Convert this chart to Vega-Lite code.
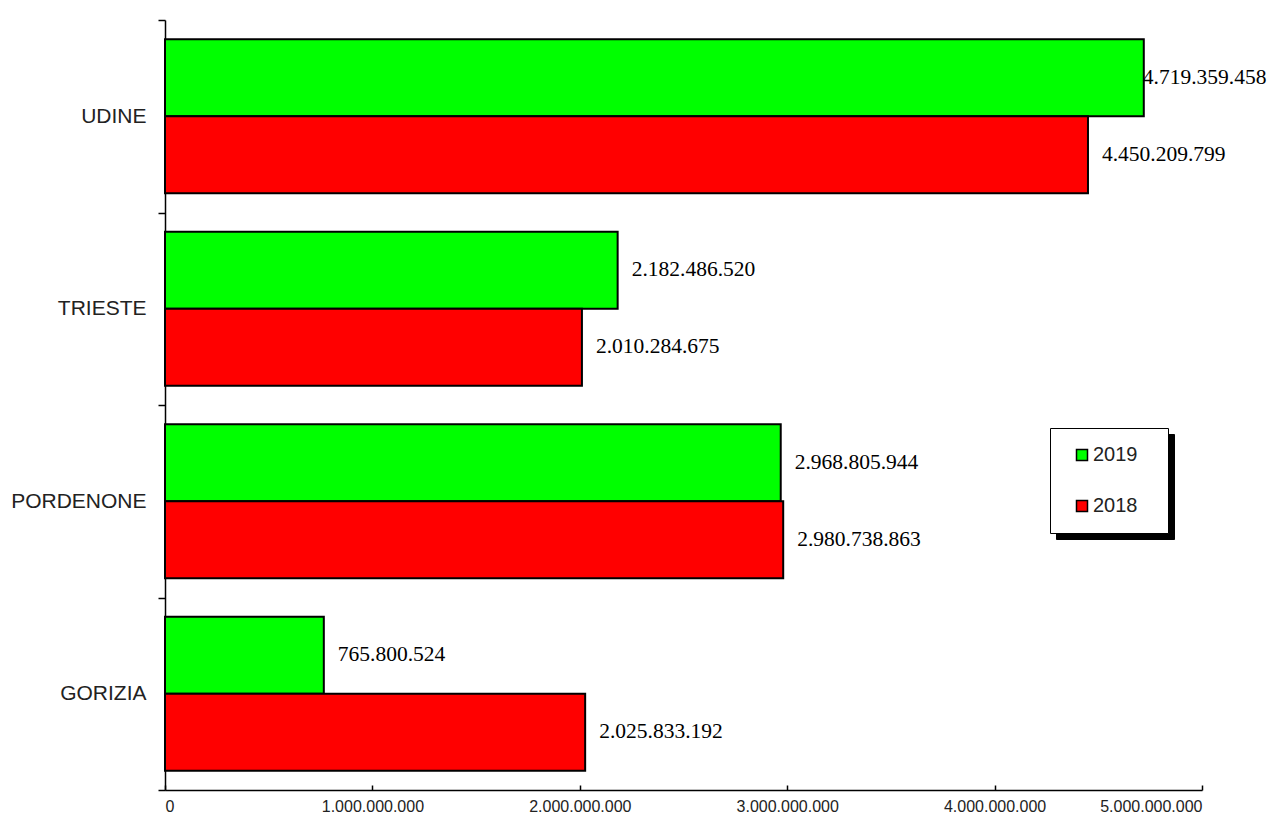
{
  "$schema": "https://vega.github.io/schema/vega-lite/v6.json",
  "width": 1037,
  "height": 770,
  "autosize": {"type": "none"},
  "padding": {"left": 165, "top": 20, "right": 69, "bottom": 25},
  "background": "white",
  "config": {
    "view": {"stroke": null},
    "locale": {"number": {"decimal": ",", "thousands": ".", "grouping": [3], "currency": ["€", ""]}}
  },
  "data": {
    "values": [
      {"province": "UDINE", "year": "2019", "value": 4719359458},
      {"province": "UDINE", "year": "2018", "value": 4450209799},
      {"province": "TRIESTE", "year": "2019", "value": 2182486520},
      {"province": "TRIESTE", "year": "2018", "value": 2010284675},
      {"province": "PORDENONE", "year": "2019", "value": 2968805944},
      {"province": "PORDENONE", "year": "2018", "value": 2980738863},
      {"province": "GORIZIA", "year": "2019", "value": 765800524},
      {"province": "GORIZIA", "year": "2018", "value": 2025833192}
    ]
  },
  "encoding": {
    "y": {
      "field": "province",
      "type": "nominal",
      "sort": ["UDINE", "TRIESTE", "PORDENONE", "GORIZIA"],
      "scale": {"paddingInner": 0, "paddingOuter": 0},
      "axis": {
        "title": null,
        "tickBand": "extent",
        "tickSize": 7,
        "tickColor": "black",
        "tickWidth": 1.5,
        "domainColor": "black",
        "domainWidth": 1.5,
        "labelFont": "Liberation Sans",
        "labelFontSize": 21,
        "labelColor": "#222222",
        "labelPadding": 12
      }
    },
    "yOffset": {
      "field": "year",
      "type": "nominal",
      "sort": ["2019", "2018"],
      "scale": {"paddingInner": 0, "paddingOuter": 0.25}
    },
    "x": {
      "field": "value",
      "type": "quantitative",
      "scale": {"domain": [0, 5000000000], "nice": false},
      "axis": {
        "title": null,
        "grid": false,
        "values": [0, 1000000000, 2000000000, 3000000000, 4000000000, 5000000000],
        "format": ",d",
        "tickSize": -5,
        "tickColor": "black",
        "tickWidth": 1.5,
        "domainColor": "black",
        "domainWidth": 1.5,
        "labelFont": "Liberation Sans",
        "labelFontSize": 16,
        "labelColor": "#222222",
        "labelPadding": 13
      }
    }
  },
  "layer": [
    {
      "mark": {"type": "bar", "stroke": "black", "strokeWidth": 2},
      "encoding": {
        "color": {
          "field": "year",
          "type": "nominal",
          "scale": {"domain": ["2019", "2018"], "range": ["#00ff00", "#ff0000"]},
          "legend": {
            "orient": "none",
            "legendX": 885,
            "legendY": 408,
            "title": " ",
            "titleOrient": "right",
            "titlePadding": 14,
            "titleFontSize": 20,
            "fillColor": "white",
            "strokeColor": "black",
            "padding": 17,
            "symbolType": "square",
            "symbolSize": 121,
            "symbolStrokeColor": "black",
            "symbolStrokeWidth": 1.5,
            "symbolOffset": 5,
            "labelFont": "Liberation Sans",
            "labelFontSize": 20,
            "labelColor": "#222222",
            "labelOffset": 1,
            "rowPadding": 31,
            "zindex": 2
          }
        },
        "opacity": {
          "field": "year",
          "type": "ordinal",
          "scale": {"domain": ["2018", "2019"], "range": [1, 1]},
          "legend": {
            "orient": "none",
            "legendX": 891,
            "legendY": 414,
            "title": " ",
            "titleOrient": "right",
            "titlePadding": 58,
            "titleFontSize": 20,
            "fillColor": "black",
            "strokeColor": "black",
            "padding": 17,
            "symbolType": "square",
            "symbolSize": 121,
            "symbolOpacity": 0,
            "symbolStrokeWidth": 1.5,
            "symbolOffset": 5,
            "labelFont": "Liberation Sans",
            "labelFontSize": 20,
            "labelExpr": "''",
            "labelOpacity": 0,
            "labelOffset": 1,
            "rowPadding": 31,
            "zindex": 1
          }
        }
      }
    },
    {
      "mark": {
        "type": "text",
        "align": "left",
        "baseline": "middle",
        "font": "Liberation Serif",
        "fontSize": 21.5,
        "color": "black",
        "dx": {"expr": "datum.value > 4600000000 ? -1 : 14"}
      },
      "encoding": {
        "text": {"field": "value", "type": "quantitative", "format": ",d"}
      }
    }
  ]
}
